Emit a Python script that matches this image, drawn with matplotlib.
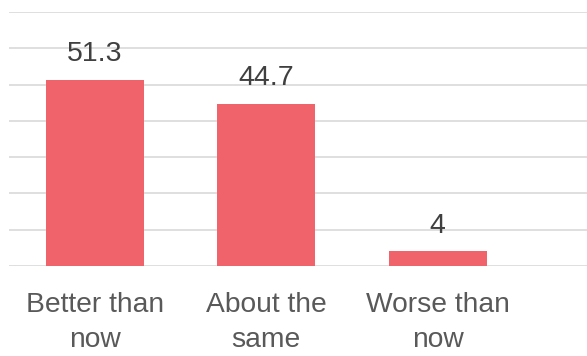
import matplotlib
matplotlib.use("Agg")
import matplotlib.pyplot as plt

categories = ["Better than\nnow", "About the\nsame", "Worse than\nnow"]
values = [51.3, 44.7, 4]
value_labels = ["51.3", "44.7", "4"]

plt.rcParams['font.family'] = ['Liberation Sans', 'DejaVu Sans']

fig = plt.figure(figsize=(5.87, 3.56), dpi=100)
ax = fig.add_axes([9 / 587, 1 - 266 / 356, (587 - 9) / 587, (266 - 12) / 356])

x = list(range(len(categories)))
bars = ax.bar(x, values, width=0.57, color="#F0636B", zorder=2)

ax.set_ylim(0, 70)
ax.set_xlim(-0.5, 2.87)
ax.set_yticks(range(0, 71, 10))
ax.yaxis.grid(True, color="#D9D9D9", linewidth=1.2, zorder=0)
ax.set_axisbelow(True)
ax.tick_params(axis="y", left=False, labelleft=False)
ax.tick_params(axis="x", bottom=False, pad=15.5, labelsize=20.3, labelcolor="#595959")
ax.set_xticks(x)
ax.set_xticklabels(categories, linespacing=1.42)
for s in ax.spines.values():
    s.set_visible(False)

for xi, v, lab in zip(x, values, value_labels):
    ax.annotate(lab, (xi, v), xytext=(0, 13.5), textcoords="offset points",
                ha="center", va="baseline", fontsize=20.5, color="#404040")

fig.savefig("out.png", dpi=100)
